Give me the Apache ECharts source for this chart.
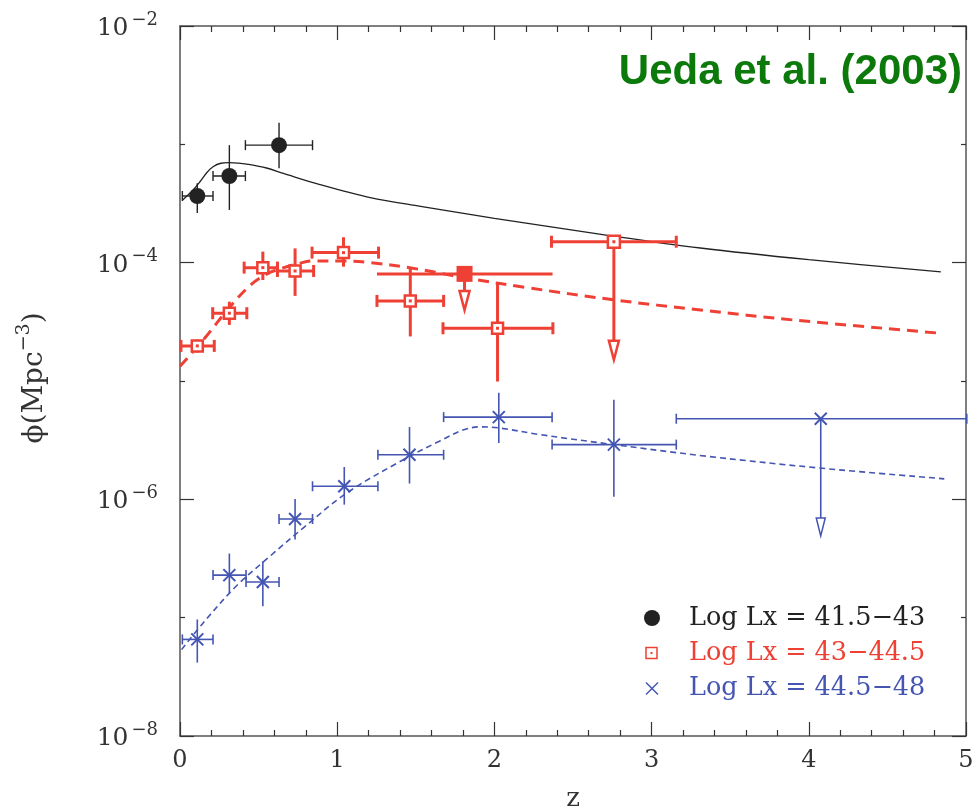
<!DOCTYPE html>
<html><head><meta charset="utf-8">
<script src="https://cdn.jsdelivr.net/npm/echarts@6/dist/echarts.min.js"></script>
<style>html,body{margin:0;padding:0;background:#fff}#c{width:975px;height:809px}</style>
</head><body><div id="c"></div>
<script>
// ---------- data (phi in Mpc^-3) ----------
const xTicks = [0, 1, 2, 3, 4, 5];
const yTickExps = [-8, -6, -4, -2];

// Log Lx = 41.5-43
const blackZ = [0.11, 0.314, 0.63];
const blackPhi = [3.66e-4, 5.40e-4, 9.84e-4];
const blackZLo = [0.015, 0.21, 0.416];
const blackZHi = [0.21, 0.416, 0.843];
const blackPhiLo = [2.63e-4, 2.79e-4, 6.27e-4];
const blackPhiHi = [4.68e-4, 9.84e-4, 1.52e-3];

// Log Lx = 43-44.5
const redZ = [0.11, 0.314, 0.527, 0.732, 1.04, 1.465, 2.02];
const redPhi = [1.98e-5, 3.74e-5, 9.08e-5, 8.51e-5, 1.216e-4, 4.75e-5, 2.79e-5];
const redZLo = [0.006, 0.208, 0.408, 0.62, 0.84, 1.253, 1.673];
const redZHi = [0.218, 0.425, 0.62, 0.85, 1.263, 1.677, 2.372];
const redPhiLo = [1.74e-5, 2.98e-5, 7.14e-5, 5.24e-5, 9.25e-5, 2.38e-5, 9.9e-6];
const redPhiHi = [2.24e-5, 4.68e-5, 1.24e-4, 1.32e-4, 1.64e-4, 9.02e-5, 6.70e-5];
// upper limits
const redLimZ = [1.81, 2.76];
const redLimPhi = [8.04e-5, 1.503e-4];
const redLimZLo = [1.253, 2.363];
const redLimZHi = [2.37, 3.157];
const redLimTo = [3.98e-5, 1.51e-5];

// Log Lx = 44.5-48
const blueZ = [0.11, 0.314, 0.527, 0.732, 1.045, 1.46, 2.028, 2.76];
const bluePhi = [6.55e-8, 2.29e-7, 2.0e-7, 6.82e-7, 1.29e-6, 2.38e-6, 4.95e-6, 2.90e-6];
const blueZLo = [0.015, 0.21, 0.42, 0.63, 0.843, 1.259, 1.677, 2.367];
const blueZHi = [0.21, 0.42, 0.63, 0.843, 1.259, 1.677, 2.367, 3.157];
const bluePhiLo = [4.17e-8, 1.62e-7, 1.25e-7, 4.57e-7, 9.02e-7, 1.36e-6, 2.99e-6, 1.05e-6];
const bluePhiHi = [9.66e-8, 3.48e-7, 3.0e-7, 1.007e-6, 1.875e-6, 4.08e-6, 7.94e-6, 6.93e-6];
const blueLimZ = [4.076];
const blueLimPhi = [4.80e-6];
const blueLimZLo = [3.157];
const blueLimZHi = [5.005];
const blueLimTo = [4.9e-7];

// model curves
const blackModelZ = [0.017, 0.08, 0.127, 0.17, 0.21, 0.26, 0.31, 0.37, 0.425, 0.55, 0.658, 0.89, 1.21, 1.53, 2.0, 2.7, 3.31, 4.0, 4.84];
const blackModelPhi = [3.39e-4, 4.07e-4, 4.83e-4, 5.75e-4, 6.46e-4, 6.92e-4, 7.0e-4, 6.95e-4, 6.81e-4, 6.31e-4, 5.68e-4, 4.57e-4, 3.55e-4, 2.99e-4, 2.37e-4, 1.72e-4, 1.33e-4, 1.06e-4, 8.36e-5];
const redModelZ = [0.0, 0.15, 0.32, 0.45, 0.55, 0.65, 0.75, 0.85, 1.04, 1.21, 1.47, 1.85, 2.2, 2.76, 3.31, 3.9, 4.81];
const redModelPhi = [1.33e-5, 2.24e-5, 4.27e-5, 6.5e-5, 8.0e-5, 9.0e-5, 9.8e-5, 1.035e-4, 1.035e-4, 1.0e-4, 9.02e-5, 7.3e-5, 6.17e-5, 4.85e-5, 3.98e-5, 3.28e-5, 2.55e-5];
const blueModelZ = [0.01, 0.15, 0.36, 0.573, 0.785, 1.06, 1.42, 1.65, 1.80, 1.91, 2.03, 2.293, 2.76, 3.355, 4.066, 4.862];
const blueModelPhi = [5.37e-8, 9.12e-8, 1.86e-7, 3.31e-7, 5.75e-7, 1.13e-6, 2.16e-6, 3.1e-6, 3.85e-6, 4.1e-6, 4.01e-6, 3.52e-6, 2.90e-6, 2.31e-6, 1.84e-6, 1.49e-6];

const legendLabels = ['Log Lx = 41.5\u221243', 'Log Lx = 43\u221244.5', 'Log Lx = 44.5\u221248'];
const titleText = 'Ueda et al. (2003)';

// ---------- styling ----------
const C_BLACK = '#222222', C_RED = '#ef4035', C_BLUE = '#4455b2', C_GREEN = '#0b7a0b';
const SERIF = '"DejaVu Serif", serif';
const lg = Math.log10;

function errRows(z, p, zl, zh, pl, ph) {
  return z.map((v, i) => [v, lg(p[i]), zl[i], zh[i], lg(pl[i]), lg(ph[i])]);
}
function limRows(z, p, zl, zh, to) {
  return z.map((v, i) => [v, lg(p[i]), zl[i], zh[i], lg(to[i])]);
}
function curve(z, p) { return z.map((v, i) => [v, lg(p[i])]); }

function seg(a, b, color, w) {
  return { type: 'line', shape: { x1: a[0], y1: a[1], x2: b[0], y2: b[1] }, style: { stroke: color, lineWidth: w } };
}

function makeErr(style) {
  return function (params, api) {
    const z = api.value(0), y = api.value(1);
    const p = api.coord([z, y]);
    const pl = api.coord([api.value(2), y]);
    const ph = api.coord([api.value(3), y]);
    const pyl = api.coord([z, api.value(4)]);
    const pyh = api.coord([z, api.value(5)]);
    const c = style.color, w = style.lw, cap = style.cap;
    const ch = [
      seg(pl, ph, c, w),
      seg([pl[0], pl[1] - cap], [pl[0], pl[1] + cap], c, w),
      seg([ph[0], ph[1] - cap], [ph[0], ph[1] + cap], c, w),
      seg(pyl, pyh, c, w)
    ];
    ch.push.apply(ch, style.marker(p));
    return { type: 'group', children: ch };
  };
}

function makeLim(style) {
  return function (params, api) {
    const z = api.value(0), y = api.value(1);
    const p = api.coord([z, y]);
    const pl = api.coord([api.value(2), y]);
    const ph = api.coord([api.value(3), y]);
    const pt = api.coord([z, api.value(4)]);
    const c = style.color, w = style.lw, cap = style.cap;
    const idx = params.dataIndex;
    const hw = style.headW, hh = style.headH;
    const ch = [seg(pl, ph, c, w)];
    if (!style.noCaps || !style.noCaps[idx]) {
      ch.push(seg([pl[0], pl[1] - cap], [pl[0], pl[1] + cap], c, w));
      ch.push(seg([ph[0], ph[1] - cap], [ph[0], ph[1] + cap], c, w));
    }
    ch.push(seg(p, [pt[0], pt[1] - hh], c, w));
    ch.push({ type: 'polygon', shape: { points: [[pt[0] - hw, pt[1] - hh], [pt[0] + hw, pt[1] - hh], [pt[0], pt[1]]] },
      style: { fill: '#fff', stroke: c, lineWidth: style.headLw } });
    ch.push.apply(ch, style.marker(p, idx));
    return { type: 'group', children: ch };
  };
}

function circleMarker(p) {
  return [{ type: 'circle', shape: { cx: p[0], cy: p[1], r: 8 }, style: { fill: C_BLACK } }];
}
function openSquare(p, s, lw) {
  return [
    { type: 'rect', shape: { x: p[0] - s / 2, y: p[1] - s / 2, width: s, height: s }, style: { fill: '#fff', stroke: C_RED, lineWidth: lw } },
    { type: 'rect', shape: { x: p[0] - 1.5, y: p[1] - 1.5, width: 3, height: 3 }, style: { fill: C_RED } }
  ];
}
function xMarker(p, s, color, lw) {
  return [
    seg([p[0] - s, p[1] - s], [p[0] + s, p[1] + s], color, lw),
    seg([p[0] - s, p[1] + s], [p[0] + s, p[1] - s], color, lw)
  ];
}

const chart = echarts.init(document.getElementById('c'), null, { renderer: 'canvas' });

const axisLineStyle = { color: '#555', width: 1.5 };
const tickStyle = { color: '#333', width: 1.2 };

function supLabel(v) {
  return '{b|10}{s|\u2212' + Math.abs(v) + '}';
}
const supRich = {
  b: { fontSize: 25, fontFamily: SERIF, color: '#333', verticalAlign: 'bottom', lineHeight: 30 },
  s: { fontSize: 18, fontFamily: SERIF, color: '#333', verticalAlign: 'top', lineHeight: 20, padding: [0, 0, 0, 3] }
};

const option = {
  backgroundColor: '#fff',
  animation: false,
  grid: { left: 180, right: 9, top: 26, bottom: 73, containLabel: false, outerBoundsMode: 'none' },
  xAxis: [
    { type: 'value', min: xTicks[0], max: xTicks[xTicks.length - 1], interval: 1, position: 'bottom',
      axisLine: { onZero: false, lineStyle: axisLineStyle },
      axisTick: { inside: true, length: 14, lineStyle: tickStyle },
      minorTick: { show: true, splitNumber: 5, length: 6, lineStyle: tickStyle },
      splitLine: { show: false },
      axisLabel: { fontSize: 24, fontFamily: SERIF, color: '#333', margin: 13 },
      name: 'z', nameLocation: 'middle', nameGap: 50,
      nameTextStyle: { fontSize: 26, fontFamily: SERIF, color: '#333' } },
    { type: 'value', min: xTicks[0], max: xTicks[xTicks.length - 1], interval: 1, position: 'top',
      axisLine: { onZero: false, lineStyle: axisLineStyle },
      axisTick: { inside: true, length: 14, lineStyle: tickStyle },
      minorTick: { show: true, splitNumber: 5, length: 6, lineStyle: tickStyle },
      splitLine: { show: false }, axisLabel: { show: false } }
  ],
  yAxis: [
    { type: 'value', min: yTickExps[0], max: yTickExps[yTickExps.length - 1], interval: 2, position: 'left',
      axisLine: { onZero: false, lineStyle: axisLineStyle },
      axisTick: { inside: true, length: 14, lineStyle: tickStyle },
      minorTick: { show: true, splitNumber: 2, length: 5, lineStyle: tickStyle },
      splitLine: { show: false },
      axisLabel: { formatter: supLabel, rich: supRich, margin: 22 } },
    { type: 'value', min: yTickExps[0], max: yTickExps[yTickExps.length - 1], interval: 2, position: 'right',
      axisLine: { onZero: false, lineStyle: axisLineStyle },
      axisTick: { inside: true, length: 14, lineStyle: tickStyle },
      minorTick: { show: true, splitNumber: 2, length: 5, lineStyle: tickStyle },
      splitLine: { show: false }, axisLabel: { show: false } }
  ],
  series: [
    { type: 'line', name: 'model1', data: curve(blackModelZ, blackModelPhi), showSymbol: false, symbol: 'none',
      smooth: 0.35, lineStyle: { color: C_BLACK, width: 1.3 }, z: 2 },
    { type: 'line', name: 'model2', data: curve(redModelZ, redModelPhi), showSymbol: false, symbol: 'none',
      smooth: 0.35, lineStyle: { color: C_RED, width: 3, type: [11, 7] }, z: 2 },
    { type: 'line', name: 'model3', data: curve(blueModelZ, blueModelPhi), showSymbol: false, symbol: 'none',
      smooth: 0.35, lineStyle: { color: C_BLUE, width: 1.6, type: [6, 4] }, z: 2 },
    { type: 'custom', name: legendLabels[0], data: errRows(blackZ, blackPhi, blackZLo, blackZHi, blackPhiLo, blackPhiHi), z: 5,
      renderItem: makeErr({ color: C_BLACK, lw: 1.4, cap: 5, marker: circleMarker }) },
    { type: 'custom', name: legendLabels[1], data: errRows(redZ, redPhi, redZLo, redZHi, redPhiLo, redPhiHi), z: 5,
      renderItem: makeErr({ color: C_RED, lw: 3, cap: 6, marker: p => openSquare(p, 11, 2.5) }) },
    { type: 'custom', name: legendLabels[1] + ' limits', data: limRows(redLimZ, redLimPhi, redLimZLo, redLimZHi, redLimTo), z: 5,
      renderItem: makeLim({ color: C_RED, lw: 3, cap: 6, headW: 5, headH: 19, headLw: 2.5, noCaps: [true, false],
        marker: (p, i) => i === 0
          ? [{ type: 'rect', shape: { x: p[0] - 8, y: p[1] - 8, width: 16, height: 16 }, style: { fill: C_RED } }]
          : openSquare(p, 12, 2.5) }) },
    { type: 'custom', name: legendLabels[2], data: errRows(blueZ, bluePhi, blueZLo, blueZHi, bluePhiLo, bluePhiHi), z: 5,
      renderItem: makeErr({ color: C_BLUE, lw: 1.6, cap: 5, marker: p => xMarker(p, 6, C_BLUE, 2) }) },
    { type: 'custom', name: legendLabels[2] + ' limits', data: limRows(blueLimZ, blueLimPhi, blueLimZLo, blueLimZHi, blueLimTo), z: 5,
      renderItem: makeLim({ color: C_BLUE, lw: 1.6, cap: 5, headW: 4.5, headH: 18, headLw: 1.5,
        marker: p => xMarker(p, 6, C_BLUE, 2) }) }
  ],
  graphic: [
    { type: 'text', x: 962, y: 72, z: 10,
      style: { text: titleText, font: 'bold 42px "Liberation Sans", Arial, sans-serif', fill: C_GREEN, align: 'right', verticalAlign: 'middle' } },
    { type: 'text', x: 32, y: 378, rotation: Math.PI / 2, z: 10,
      style: { text: '{a|\u03d5(Mpc}{s|\u22123}{a|)}', align: 'center', verticalAlign: 'middle',
        rich: { a: { fontSize: 28, fontFamily: SERIF, fill: '#333', color: '#333', verticalAlign: 'bottom', lineHeight: 34 },
                s: { fontSize: 19, fontFamily: SERIF, fill: '#333', color: '#333', verticalAlign: 'top', lineHeight: 20 } } } },
    // legend
    { type: 'circle', shape: { cx: 652, cy: 618, r: 8 }, style: { fill: C_BLACK }, z: 10 },
    { type: 'rect', shape: { x: 646, y: 647.5, width: 11, height: 11 }, style: { fill: '#fff', stroke: C_RED, lineWidth: 1.5 }, z: 10 },
    { type: 'rect', shape: { x: 650.5, y: 652, width: 2, height: 2 }, style: { fill: C_RED }, z: 10 },
    { type: 'line', shape: { x1: 646, y1: 682.5, x2: 658, y2: 694.5 }, style: { stroke: C_BLUE, lineWidth: 1.5 }, z: 10 },
    { type: 'line', shape: { x1: 646, y1: 694.5, x2: 658, y2: 682.5 }, style: { stroke: C_BLUE, lineWidth: 1.5 }, z: 10 },
    { type: 'text', x: 689, y: 618, z: 10, style: { text: legendLabels[0], font: '25.5px ' + SERIF, fill: C_BLACK, verticalAlign: 'middle' } },
    { type: 'text', x: 689, y: 653, z: 10, style: { text: legendLabels[1], font: '25.5px ' + SERIF, fill: C_RED, verticalAlign: 'middle' } },
    { type: 'text', x: 689, y: 688, z: 10, style: { text: legendLabels[2], font: '25.5px ' + SERIF, fill: C_BLUE, verticalAlign: 'middle' } }
  ]
};
chart.setOption(option);
</script>
</body></html>
